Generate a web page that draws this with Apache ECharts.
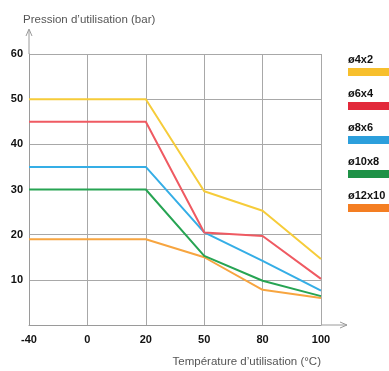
<!DOCTYPE html>
<html><head><meta charset="utf-8">
<script src="https://cdn.jsdelivr.net/npm/echarts@6/dist/echarts.min.js"></script>
<style>html,body{margin:0;padding:0;background:#fff}#c{width:389px;height:371px}</style>
</head><body><div id="c"></div>
<script>
const categories = ['-40', '0', '20', '50', '80', '100'];
const seriesNames = ['ø4x2', 'ø6x4', 'ø8x6', 'ø10x8', 'ø12x10'];
const s4x2 = [50, 50, 50, 29.6, 25.3, 14.6];
const s6x4 = [45, 45, 45, 20.5, 19.7, 10.2];
const s8x6 = [35, 35, 35, 20.5, 14.2, 7.6];
const s10x8 = [30, 30, 30, 15.3, 9.8, 6.4];
const s12x10 = [19, 19, 19, 15.0, 7.8, 6.0];
const yTicks = [0, 10, 20, 30, 40, 50, 60];
const lineColors = ['#f6cc3a', '#ef5a62', '#35aee6', '#27a453', '#f7a540'];
const legendColors = ['#f7bf2c', '#e2293a', '#2c9fdc', '#1e9146', '#f47e22'];
const values = [s4x2, s6x4, s8x6, s10x8, s12x10];

const chart = echarts.init(document.getElementById('c'), null, {renderer: 'canvas'});
const gridL = 29, gridT = 54, gridR = 321, gridB = 325;
const axisGray = '#9a9a9a';
const nameFont = '"Liberation Sans", sans-serif';
const graphic = [];
graphic.push({type: 'polyline', shape: {points: [[gridL, gridT], [gridL, 30]]}, style: {stroke: axisGray, lineWidth: 1}});
graphic.push({type: 'polyline', shape: {points: [[gridL - 3, 36], [gridL, 29], [gridL + 3, 36]]}, style: {stroke: axisGray, fill: null, lineWidth: 1}});
graphic.push({type: 'polyline', shape: {points: [[gridR, gridB], [347, gridB]]}, style: {stroke: axisGray, lineWidth: 1}});
graphic.push({type: 'polyline', shape: {points: [[340, gridB - 3], [347, gridB], [340, gridB + 3]]}, style: {stroke: axisGray, fill: null, lineWidth: 1}});
seriesNames.forEach((n, i) => {
  graphic.push({type: 'text', left: 348, top: 54 + i * 34, style: {text: n, fill: '#111', font: 'bold 11px "Liberation Sans", sans-serif'}});
  graphic.push({type: 'rect', shape: {x: 348, y: 68 + i * 34, width: 45, height: 8}, style: {fill: legendColors[i]}});
});

chart.setOption({
  animation: false,
  grid: {left: gridL, right: 389 - gridR, top: gridT, bottom: 371 - gridB},
  xAxis: {
    type: 'category', data: categories, boundaryGap: false,
    axisLine: {lineStyle: {color: axisGray, width: 1}},
    axisTick: {show: false},
    axisLabel: {color: '#111', fontWeight: 'bold', fontSize: 11, margin: 9, fontFamily: 'Liberation Sans'},
    splitLine: {show: true, lineStyle: {color: '#a8a8a8', width: 1}},
    name: 'Température d’utilisation (°C)', nameLocation: 'end', nameGap: 0,
    nameTextStyle: {color: '#555', fontSize: 11.5, fontFamily: nameFont, align: 'right', verticalAlign: 'top', padding: [31, 0, 0, 0]}
  },
  yAxis: {
    type: 'value', min: yTicks[0], max: yTicks[yTicks.length - 1], interval: 10,
    axisLine: {show: true, lineStyle: {color: axisGray, width: 1}},
    axisTick: {show: false},
    axisLabel: {color: '#111', fontWeight: 'bold', fontSize: 11, margin: 6, showMinLabel: false, fontFamily: 'Liberation Sans'},
    splitLine: {show: true, lineStyle: {color: '#a8a8a8', width: 1}},
    name: 'Pression d’utilisation (bar)', nameLocation: 'end', nameGap: 28,
    nameTextStyle: {color: '#555', fontSize: 11.5, fontFamily: nameFont, align: 'left', padding: [0, 0, 0, -6]}
  },
  series: seriesNames.map((n, i) => ({
    name: n, type: 'line', data: values[i], symbol: 'none',
    lineStyle: {color: lineColors[i], width: 2}, itemStyle: {color: lineColors[i]}, z: 10 - i
  })),
  graphic: graphic
});
</script></body></html>
